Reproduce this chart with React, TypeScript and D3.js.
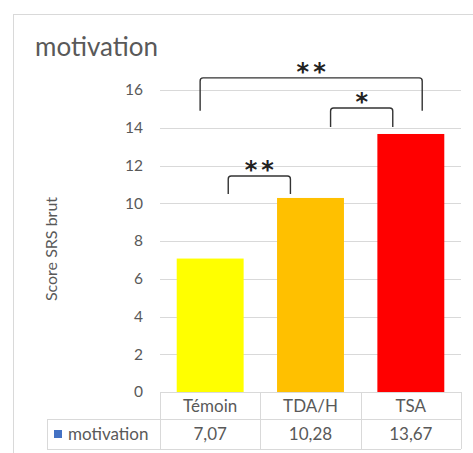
import React from 'react';
import * as d3 from 'd3';

// chart data
const categories = ['Témoin', 'TDA/H', 'TSA'];
const values = [7.07, 10.28, 13.67];
const valueLabels = ['7,07', '10,28', '13,67'];
const barColors = ['#FFFF00', '#FFC000', '#FF0000'];
const yTicks = [0, 2, 4, 6, 8, 10, 12, 14, 16];
const seriesName = 'motivation';

// significance brackets (from/to category, position inside the bar, top and leg end in data units)
const brackets = [
  { from: 'Témoin', fromAt: 0.35, to: 'TSA', toAt: 0.67, top: 16.64, end: 14.9, label: '**' },
  { from: 'TDA/H', fromAt: 0.8, to: 'TSA', toAt: 0.23, top: 15.05, end: 14.04, label: '*' },
  { from: 'Témoin', fromAt: 0.77, to: 'TDA/H', toAt: 0.2, top: 11.44, end: 10.49, label: '**' },
];

const W = 473;
const H = 453;
const plot = { left: 160, right: 461, top: 90, bottom: 392 };
const font = 'Lato, "Open Sans", sans-serif';
const grey = '#595959';
const lineGrey = '#d9d9d9';

export default function App() {
  const x = d3.scaleBand<string>()
    .domain(categories)
    .range([plot.left, plot.right])
    .paddingInner(0.333)
    .paddingOuter(0.1665);

  const y = d3.scaleLinear().domain([0, 16]).range([plot.bottom, plot.top]);

  const step = x.step();
  const colStart = (c: string) => (x(c) as number) - step * 0.1665;
  const row1 = plot.bottom + 27;
  const row2 = row1 + 30;
  const legendLeft = 47;

  const bracketPath = (b: typeof brackets[0]) => {
    const x1 = (x(b.from) as number) + x.bandwidth() * b.fromAt;
    const x2 = (x(b.to) as number) + x.bandwidth() * b.toAt;
    const yt = y(b.top);
    const yb = y(b.end);
    const r = 3;
    return `M${x1},${yb} L${x1},${yt + r} Q${x1},${yt} ${x1 + r},${yt} L${x2 - r},${yt} Q${x2},${yt} ${x2},${yt + r} L${x2},${yb}`;
  };

  return (
    <svg width={W} height={H} style={{ position: 'absolute', left: 0, top: 0, background: '#fff' }}>
      <rect x={13.5} y={14.5} width={W} height={H} fill="#fff" stroke={lineGrey} />

      <text x={35} y={56} fontFamily={font} fontSize={26} fill={grey}>{seriesName}</text>

      {/* gridlines */}
      {yTicks.filter(t => t > 0).map(t => (
        <line key={t} x1={plot.left} x2={plot.right} y1={Math.round(y(t)) + 0.5} y2={Math.round(y(t)) + 0.5} stroke={lineGrey} />
      ))}

      {/* tick labels */}
      {yTicks.map(t => (
        <text key={t} x={143} y={y(t)} dy="0.35em" textAnchor="end" fontFamily={font} fontSize={15.5} fill={grey}>{t}</text>
      ))}

      <text transform={`translate(57,${(plot.top + plot.bottom) / 2 + 8}) rotate(-90)`} textAnchor="middle"
        fontFamily={font} fontSize={16} fill={grey}>Score SRS brut</text>

      {/* bars */}
      {categories.map((c, i) => (
        <rect key={c} x={x(c)} y={y(values[i])} width={x.bandwidth()} height={y(0) - y(values[i])} fill={barColors[i]} />
      ))}

      {/* data table */}
      <g stroke={lineGrey} fill="none">
        <line x1={plot.left} x2={plot.right} y1={plot.bottom + 0.5} y2={plot.bottom + 0.5} />
        <line x1={legendLeft} x2={plot.right} y1={row1 + 0.5} y2={row1 + 0.5} />
        <line x1={legendLeft} x2={plot.right} y1={row2 + 0.5} y2={row2 + 0.5} />
        <line x1={legendLeft + 0.5} x2={legendLeft + 0.5} y1={row1} y2={row2} />
        {categories.map(c => (
          <line key={c} x1={Math.round(colStart(c)) + 0.5} x2={Math.round(colStart(c)) + 0.5} y1={plot.bottom} y2={row2} />
        ))}
        <line x1={plot.right + 0.5} x2={plot.right + 0.5} y1={plot.bottom} y2={row2} />
      </g>
      {categories.map((c, i) => (
        <g key={c} fontFamily={font} fontSize={17} fill={grey} textAnchor="middle">
          <text x={(x(c) as number) + x.bandwidth() / 2} y={(plot.bottom + row1) / 2} dy="0.36em">{c}</text>
          <text x={(x(c) as number) + x.bandwidth() / 2} y={(row1 + row2) / 2} dy="0.36em">{valueLabels[i]}</text>
        </g>
      ))}
      <rect x={54} y={430} width={8} height={8} fill="#4472C4" />
      <text x={68} y={(row1 + row2) / 2} dy="0.36em" fontFamily={font} fontSize={17} fill={grey}>{seriesName}</text>

      {/* significance brackets */}
      {brackets.map((b, i) => {
        const x1 = (x(b.from) as number) + x.bandwidth() * b.fromAt;
        const x2 = (x(b.to) as number) + x.bandwidth() * b.toAt;
        return (
          <g key={i}>
            <path d={bracketPath(b)} fill="none" stroke="#333" strokeWidth={1.4} />
            <text x={(x1 + x2) / 2 + (b.label.length > 1 ? 2 : 0)} y={y(b.top) + 2} textAnchor="middle" fontFamily='"DejaVu Sans", sans-serif'
              fontWeight="bold" fontSize={24} letterSpacing={b.label.length > 1 ? 4 : 0} fill="#222">{b.label}</text>
          </g>
        );
      })}
    </svg>
  );
}
